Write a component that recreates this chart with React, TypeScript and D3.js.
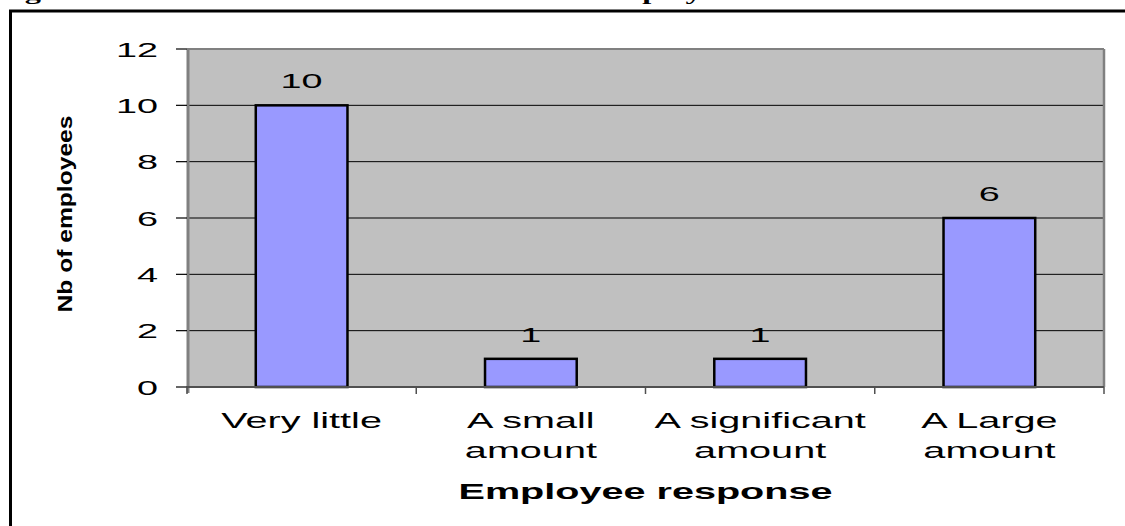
import React from "react";
import * as d3 from "d3";

const categories: string[][] = [
  ["Very little"],
  ["A small", "amount"],
  ["A significant", "amount"],
  ["A Large", "amount"],
];
const categoryKeys = ["Very little", "A small amount", "A significant amount", "A Large amount"];
const values = [10, 1, 1, 6];
const yTicks = [0, 2, 4, 6, 8, 10, 12];
const yTitle = "Nb of employees";
const xTitle = "Employee response";
const titleStart = "Figure";
const titleEnd = "employees";

const W = 1125;
const H = 526;
const plot = { left: 187, right: 1104, top: 49, bottom: 387 };
const SX = 1.8;
const FONT = "Arial, 'Liberation Sans', sans-serif";

export default function App() {
  const x = d3.scaleBand<string>().domain(categoryKeys).range([plot.left, plot.right]).padding(0);
  const y = d3.scaleLinear().domain([0, 12]).range([plot.bottom, plot.top]);
  const bw = x.bandwidth() * 0.4;
  const boundaries = [...categoryKeys.map((c) => x(c) as number), plot.right];

  return (
    <svg width={W} height={H} style={{ position: "absolute", left: 0, top: 0, background: "#fff" }}>
      {/* clipped title fragments */}
      <text transform={`translate(-4,0) scale(${SX},1)`} fontFamily="'Liberation Serif', 'Times New Roman', serif" fontWeight="bold" fontSize={18}>{titleStart}</text>
      <text transform={`translate(601,0) scale(${SX},1)`} fontFamily="'Liberation Serif', 'Times New Roman', serif" fontWeight="bold" fontSize={18}>{titleEnd}</text>
      {/* outer frame */}
      <rect x={10.5} y={11} width={1300} height={700} fill="none" stroke="#000" strokeWidth={3} />
      {/* plot area */}
      <rect x={plot.left} y={plot.top} width={plot.right - plot.left} height={plot.bottom - plot.top} fill="#C0C0C0" />
      {yTicks.filter((t) => t > 0 && t < 12).map((t) => (
        <line key={t} x1={plot.left} x2={plot.right} y1={y(t)} y2={y(t)} stroke="#000" strokeWidth={1} />
      ))}
      <line x1={plot.left} x2={plot.right} y1={plot.top} y2={plot.top} stroke="#808080" strokeWidth={2} />
      <line x1={plot.right} x2={plot.right} y1={plot.top} y2={plot.bottom} stroke="#808080" strokeWidth={2.5} />
      {/* bars */}
      {values.map((v, i) => {
        const cx = (x(categoryKeys[i]) as number) + x.bandwidth() / 2;
        return (
          <g key={i}>
            <rect x={cx - bw / 2} y={y(v)} width={bw} height={plot.bottom - y(v)} fill="#9999FF" stroke="#000" strokeWidth={2.5} />
            <text transform={`translate(${cx},${y(v) - 17}) scale(${SX},1)`} textAnchor="middle" fontFamily={FONT} fontSize={21} fill="#000">{v}</text>
          </g>
        );
      })}
      {/* y axis */}
      <line x1={plot.left + 1} x2={plot.left + 1} y1={plot.top} y2={plot.bottom + 6} stroke="#808080" strokeWidth={3} />
      {yTicks.map((t) => (
        <g key={t}>
          <line x1={176} x2={plot.left} y1={y(t)} y2={y(t)} stroke="#000" strokeWidth={1.2} />
          <text transform={`translate(158,${y(t) + 7.5}) scale(${SX},1)`} textAnchor="end" fontFamily={FONT} fontSize={21} fill="#000">{t}</text>
        </g>
      ))}
      {/* x axis */}
      <line x1={plot.left} x2={plot.right} y1={plot.bottom} y2={plot.bottom} stroke="#505050" strokeWidth={2} />
      {boundaries.map((b, i) => (
        <line key={i} x1={b} x2={b} y1={plot.bottom} y2={plot.bottom + 7} stroke="#505050" strokeWidth={1.5} />
      ))}
      {categories.map((lines, i) => {
        const cx = (x(categoryKeys[i]) as number) + x.bandwidth() / 2;
        return lines.map((ln, j) => (
          <text key={`${i}-${j}`} transform={`translate(${cx},${428 + j * 30}) scale(${SX},1)`} textAnchor="middle" fontFamily={FONT} fontSize={22} fill="#000">{ln}</text>
        ));
      })}
      {/* axis titles */}
      <text transform={`translate(${(plot.left + plot.right) / 2},499) scale(${SX},1)`} textAnchor="middle" fontFamily={FONT} fontWeight="bold" fontSize={22} fill="#000">{xTitle}</text>
      <text transform={`translate(72,214) scale(0.78,1) rotate(-90)`} textAnchor="middle" fontFamily={FONT} fontWeight="bold" fontSize={26} textLength={197} lengthAdjust="spacingAndGlyphs" fill="#000">{yTitle}</text>
    </svg>
  );
}
